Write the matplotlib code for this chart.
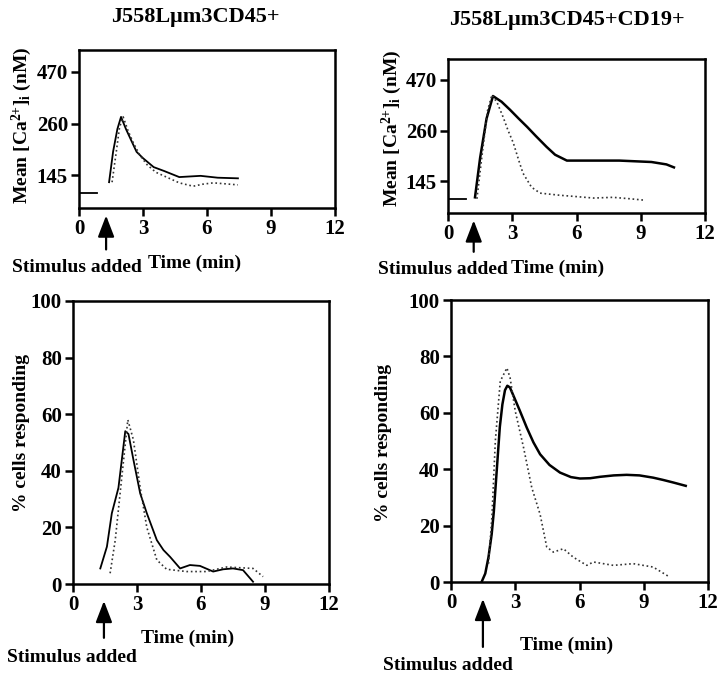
import matplotlib
matplotlib.use("Agg")
import matplotlib.pyplot as plt
from matplotlib.ticker import NullLocator, FixedLocator, FixedFormatter

plt.rcParams['font.family'] = ['Liberation Serif', 'DejaVu Serif']
plt.rcParams['font.weight'] = 'bold'
plt.rcParams['mathtext.fontset'] = 'custom'
plt.rcParams['mathtext.rm'] = 'Liberation Serif:bold'
plt.rcParams['mathtext.it'] = 'Liberation Serif:bold'
plt.rcParams['mathtext.bf'] = 'Liberation Serif:bold'

# --- top-left: J558Lum3CD45+, mean [Ca2+]i (nM)
tl_base_t = [0.0, 0.85]
tl_base_v = [118, 118]
tl_solid_t = [1.41, 1.6, 1.8, 1.97, 2.2, 2.45, 2.7, 3.0, 3.5, 4.0, 4.7, 5.2, 5.7, 6.5, 7.45]
tl_solid_v = [134, 190, 245, 281, 245, 215, 189, 176, 159, 152, 142, 143, 144, 141, 140]
tl_dot_t = [1.55, 1.75, 1.9, 2.07, 2.3, 2.55, 2.85, 3.2, 3.6, 4.1, 4.7, 5.35, 5.8, 6.3, 7.45]
tl_dot_v = [134, 190, 250, 281, 240, 209, 182, 163, 150, 142, 133, 128, 131, 133, 130]

# --- top-right: J558Lum3CD45+CD19+
tr_base_t = [0.0, 0.85]
tr_base_v = [118, 118]
tr_solid_t = [1.26, 1.5, 1.8, 2.1, 2.5, 2.9, 3.3, 3.7, 4.1, 4.6, 5.0, 5.55, 6.5, 8.0, 9.5, 10.2, 10.55]
tr_solid_v = [120, 190, 300, 390, 365, 332, 300, 272, 245, 216, 197, 184, 184, 184, 181, 176, 170]
tr_dot_t = [1.35, 1.6, 1.85, 2.05, 2.3, 2.57, 2.8, 3.05, 3.3, 3.5, 3.9, 4.3, 5.2, 6.0, 6.8, 7.7, 8.5, 9.2]
tr_dot_v = [118, 200, 330, 395, 360, 306, 262, 226, 185, 159, 135, 126, 123, 121, 119, 120, 118, 116]

# --- bottom-left: % cells responding
bl_solid_t = [1.28, 1.59, 1.82, 2.13, 2.45, 2.6, 2.83, 3.15, 3.46, 3.93, 4.24,
              4.55, 5.02, 5.48, 5.95, 6.57, 7.04, 7.5, 7.97, 8.44]
bl_solid_v = [5.5, 13.2, 25, 34, 54, 53, 44, 32, 25, 15.5, 12,
              9.6, 5.5, 6.7, 6.4, 4.4, 5.2, 5.5, 4.9, 0.8]
bl_dot_t = [1.74, 1.98, 2.29, 2.57, 2.83, 3.15, 3.46, 3.93, 4.39, 5.33, 6.26,
            7.2, 8.44, 8.91]
bl_dot_v = [3.8, 15.5, 38, 58, 51, 34, 20, 8.5, 5.2, 4.4, 4.4,
            6, 5.5, 2.6]

# --- bottom-right
br_solid_t = [1.44, 1.6, 1.75, 1.9, 2.0, 2.14, 2.28, 2.4, 2.52, 2.63, 2.75, 2.92, 3.2,
              3.54, 3.85, 4.16, 4.6, 5.09, 5.6, 6.02, 6.5, 6.96, 7.6, 8.2, 8.8,
              9.44, 9.9, 10.37, 10.96]
br_solid_v = [0.2, 3, 8.8, 17, 25, 40, 55, 63, 68, 69.6, 69, 66, 61,
              54.7, 49.5, 45.3, 41.5, 38.8, 37.2, 36.7, 36.8, 37.3, 37.8, 38, 37.8,
              37, 36.2, 35.3, 34.1]
br_dot_t = [1.75, 1.91, 2.07, 2.3, 2.61, 2.76, 3.0, 3.39, 3.77, 4.16, 4.47,
            4.78, 5.25, 5.71, 6.34, 6.65, 7.58, 8.51, 9.44, 10.2]
br_dot_v = [6.5, 23, 50, 71.2, 75.9, 72.4, 60.6, 47.6, 33.5, 24, 12.4,
            10.6, 11.8, 8.8, 5.9, 7.1, 5.9, 6.5, 5.3, 1.8]

x_ticks = [0, 3, 6, 9, 12]
ca_ticks = [145, 260, 470]
pct_ticks = [0, 20, 40, 60, 80, 100]

W, H = 720, 674
fig = plt.figure(figsize=(W / 100, H / 100), dpi=100)


def px_axes(left, right, top, bottom):
    return fig.add_axes([left / W, 1 - bottom / H, (right - left) / W, (bottom - top) / H])


def style(ax):
    for s in ax.spines.values():
        s.set_linewidth(1.8)
    ax.tick_params(direction='out', length=6, width=1.8, labelsize=15, pad=2)
    ax.set_xlim(0, 12)
    ax.set_xticks(x_ticks)


def ftext(x, y, s, **kw):
    fig.text(x / W, 1 - y / H, s, ha='center', va='center', fontweight='bold', **kw)


def stim_arrow(ax, t, y0, y1):
    ax.annotate('', xy=(t, y0), xycoords=('data', 'axes fraction'),
                xytext=(t, y1), textcoords=('data', 'axes fraction'),
                arrowprops=dict(arrowstyle='-|>,head_length=1.3,head_width=0.5',
                                color='black', lw=1.6),
                annotation_clip=False)


def ca_axes(ax):
    style(ax)
    ax.set_yscale('log')
    ax.set_ylim(100, 600)
    ax.yaxis.set_minor_locator(NullLocator())
    ax.yaxis.set_major_locator(FixedLocator(ca_ticks))
    ax.yaxis.set_major_formatter(FixedFormatter([str(v) for v in ca_ticks]))


ca_label = r'Mean [Ca$^{2{+}}$]$_{\rm i}$ (nM)'

# top-left
ax1 = px_axes(79, 335, 50, 208)
ca_axes(ax1)
ax1.plot(tl_base_t, tl_base_v, color='black', lw=1.3)
ax1.plot(tl_solid_t, tl_solid_v, color='black', lw=1.3)
ax1.plot(tl_dot_t, tl_dot_v, color='#333333', lw=1.2, ls=':')
stim_arrow(ax1, 1.27, -0.03, -0.28)
ftext(195, 17, 'J558Lμm3CD45+', fontsize=16)
ftext(77, 268, 'Stimulus added', fontsize=14)
ftext(195, 263, 'Time (min)', fontsize=14)
ftext(22, 125, ca_label, fontsize=14, rotation=90)

# top-right
ax2 = px_axes(448, 705, 59, 213)
ca_axes(ax2)
ax2.plot(tr_base_t, tr_base_v, color='black', lw=1.3)
ax2.plot(tr_solid_t, tr_solid_v, color='black', lw=1.8)
ax2.plot(tr_dot_t, tr_dot_v, color='#333333', lw=1.2, ls=':')
stim_arrow(ax2, 1.2, -0.03, -0.27)
ftext(567, 20, 'J558Lμm3CD45+CD19+', fontsize=16)
ftext(443, 270, 'Stimulus added', fontsize=14)
ftext(558, 268, 'Time (min)', fontsize=14)
ftext(392, 128, ca_label, fontsize=14, rotation=90)

# bottom-left
ax3 = px_axes(73, 329, 301, 584)
style(ax3)
ax3.set_ylim(0, 100)
ax3.set_yticks(pct_ticks)
ax3.plot(bl_solid_t, bl_solid_v, color='black', lw=1.3)
ax3.plot(bl_dot_t, bl_dot_v, color='#333333', lw=1.2, ls=':')
stim_arrow(ax3, 1.45, -0.05, -0.2)
ftext(72, 657, 'Stimulus added', fontsize=14)
ftext(188, 638, 'Time (min)', fontsize=14)
ftext(22, 433, '% cells responding', fontsize=14, rotation=90)

# bottom-right
ax4 = px_axes(451, 708, 300, 582)
style(ax4)
ax4.set_ylim(0, 100)
ax4.set_yticks(pct_ticks)
ax4.plot(br_solid_t, br_solid_v, color='black', lw=1.8)
ax4.plot(br_dot_t, br_dot_v, color='#333333', lw=1.2, ls=':')
stim_arrow(ax4, 1.49, -0.05, -0.24)
ftext(448, 666, 'Stimulus added', fontsize=14)
ftext(567, 645, 'Time (min)', fontsize=14)
ftext(383, 443, '% cells responding', fontsize=14, rotation=90)

fig.savefig('out.png', dpi=100)
